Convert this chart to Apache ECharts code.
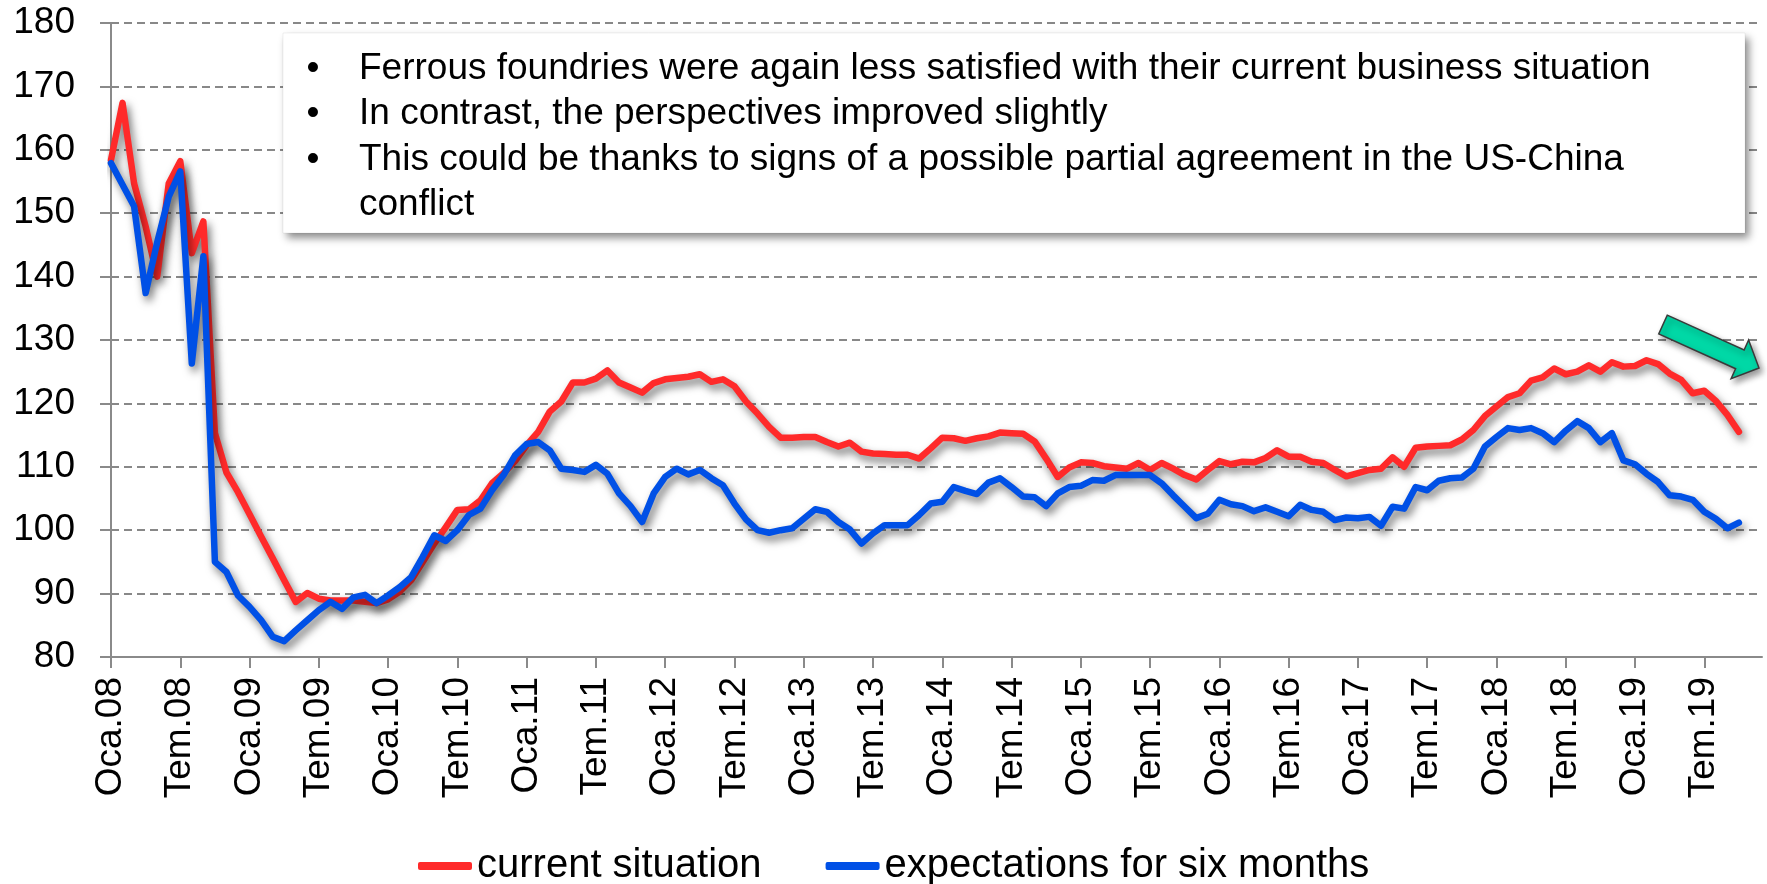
<!DOCTYPE html>
<html>
<head>
<meta charset="utf-8">
<title>Ferrous foundries – business situation</title>
<script src="https://cdn.jsdelivr.net/npm/echarts@6.0.0/dist/echarts.min.js"></script>
<style>
  html, body { margin: 0; padding: 0; background: #fff; }
  #chart { width: 1767px; height: 884px; }
</style>
</head>
<body>
<div id="chart"></div>
<script>
// ── Categories (monthly, Jan 2008 – Dec 2019) ─────────────────────────────
const MONTHS = ['Oca', 'Şub', 'Mar', 'Nis', 'May', 'Haz', 'Tem', 'Ağu', 'Eyl', 'Eki', 'Kas', 'Ara']
const YEARS = ['08', '09', '10', '11', '12', '13', '14', '15', '16', '17', '18', '19']

// ── Series values (Jan 2008 – Oct 2019) ───────────────────────────────────
const CURRENT_SITUATION = [
  158.4, 167.4, 154.7, 147.9, 140.0, 154.7, 158.2, 143.7, 148.7, 115.3, 109.1, 106.0,
  102.5, 99.0, 95.6, 92.1, 88.7, 90.1, 89.2, 88.9, 88.9, 88.9, 88.7, 88.5,
  89.1, 90.3, 92.1, 95.0, 97.9, 100.5, 103.2, 103.3, 104.7, 107.4, 109.0, 110.9,
  113.4, 115.5, 118.7, 120.3, 123.3, 123.3, 123.9, 125.2, 123.3, 122.5, 121.7, 123.2,
  123.8, 124.0, 124.2, 124.6, 123.4, 123.8, 122.7, 120.3, 118.4, 116.3, 114.6, 114.6,
  114.7, 114.7, 113.9, 113.2, 113.8, 112.4, 112.1, 112.0, 111.9, 111.9, 111.3, 112.9,
  114.6, 114.5, 114.1, 114.5, 114.8, 115.4, 115.3, 115.2, 114.0, 111.3, 108.4, 109.9,
  110.7, 110.6, 110.1, 109.9, 109.7, 110.6, 109.5, 110.6, 109.7, 108.7, 108.0, 109.5,
  110.9, 110.4, 110.8, 110.7, 111.4, 112.6, 111.6, 111.6, 110.8, 110.6, 109.5, 108.5,
  109.0, 109.5, 109.7, 111.5, 110.0, 113.0, 113.2, 113.3, 113.4, 114.3, 115.8, 118.0,
  119.5, 121.0, 121.6, 123.6, 124.1, 125.5, 124.6, 125.0, 126.0, 125.0, 126.5, 125.8,
  125.9, 126.8, 126.2, 124.7, 123.7, 121.6, 122.0, 120.4, 118.2, 115.5
]
const EXPECTATIONS = [
  157.9, 154.5, 151.1, 137.4, 145.4, 152.6, 156.6, 126.3, 143.2, 95.0, 93.4, 89.7,
  87.9, 85.8, 83.2, 82.5, 84.2, 85.8, 87.4, 88.7, 87.6, 89.4, 89.8, 88.5,
  89.7, 91.0, 92.6, 95.8, 99.2, 98.3, 100.0, 102.4, 103.4, 106.3, 108.7, 111.8,
  113.6, 113.9, 112.6, 109.7, 109.5, 109.2, 110.3, 108.9, 105.8, 103.8, 101.3, 105.8,
  108.4, 109.7, 108.8, 109.5, 108.2, 107.1, 104.2, 101.7, 100.0, 99.6, 100.0, 100.3,
  101.8, 103.3, 102.9, 101.3, 100.1, 97.9, 99.5, 100.8, 100.8, 100.8, 102.4, 104.2,
  104.5, 106.8, 106.2, 105.7, 107.5, 108.2, 106.8, 105.3, 105.2, 103.8, 105.8, 106.8,
  107.0, 107.9, 107.8, 108.7, 108.7, 108.7, 108.7, 107.4, 105.5, 103.7, 101.9, 102.6,
  104.8, 104.1, 103.8, 103.0, 103.6, 102.9, 102.2, 104.0, 103.2, 102.9, 101.6, 102.0,
  101.9, 102.1, 100.7, 103.7, 103.4, 106.8, 106.3, 107.8, 108.2, 108.3, 109.7, 113.2,
  114.7, 116.1, 115.8, 116.1, 115.3, 113.9, 115.7, 117.2, 116.1, 113.9, 115.3, 111.0,
  110.4, 108.9, 107.6, 105.5, 105.3, 104.8, 102.9, 101.8, 100.3, 101.2
]

// ── Axis & text ───────────────────────────────────────────────────────────
const Y_MIN = 80
const Y_MAX = 180
const Y_STEP = 10
const SERIES_NAMES = ['current situation', 'expectations for six months']
const NOTE_LINES = [
  { bullet: true, text: 'Ferrous foundries were again less satisfied with their current business situation' },
  { bullet: true, text: 'In contrast, the perspectives improved slightly' },
  { bullet: true, text: 'This could be thanks to signs of a possible partial agreement in the US-China' },
  { bullet: false, text: 'conflict' }
]

const FONT = '"Liberation Sans", Arial, Helvetica, sans-serif'
const AXIS_GREY = '#8a8a8a'

const categories = []
YEARS.forEach(y => MONTHS.forEach(m => categories.push(`${m}.${y}`)))

// ── Annotation box ────────────────────────────────────────────────────────
function buildNote() {
  const els = [{
    type: 'rect',
    z: 100,
    shape: { x: 283, y: 33, width: 1462, height: 200 },
    style: {
      fill: '#fff',
      stroke: 'rgba(0,0,0,0.06)',
      lineWidth: 1,
      shadowColor: 'rgba(0,0,0,0.45)',
      shadowBlur: 8,
      shadowOffsetX: 4,
      shadowOffsetY: 5
    }
  }]
  NOTE_LINES.forEach((line, i) => {
    const y = 68.5 + i * 45.5
    if (line.bullet) {
      els.push({
        type: 'text', z: 101, x: 313, y,
        style: { text: '•', font: `37px ${FONT}`, fill: '#000', align: 'center', verticalAlign: 'middle' }
      })
    }
    els.push({
      type: 'text', z: 101, x: 359, y,
      style: { text: line.text, font: `37px ${FONT}`, fill: '#000', align: 'left', verticalAlign: 'middle' }
    })
  })
  return els
}

// ── Trend arrow ───────────────────────────────────────────────────────────
function buildArrow() {
  const ox = 1663, oy = 324.5
  const ang = 24.4 * Math.PI / 180
  const local = [[0, -10.3], [84.4, -10.3], [84.4, -21.2], [105.4, 0], [84.4, 21.2], [84.4, 10.3], [0, 10.3]]
  const pts = local.map(([u, v]) => [
    ox + u * Math.cos(ang) - v * Math.sin(ang),
    oy + u * Math.sin(ang) + v * Math.cos(ang)
  ])
  return {
    type: 'polygon',
    z: 100,
    shape: { points: pts },
    style: {
      fill: '#00d8a6',
      stroke: '#3a3a3a',
      lineWidth: 1.5,
      shadowColor: 'rgba(0,0,0,0.4)',
      shadowBlur: 6,
      shadowOffsetX: 3,
      shadowOffsetY: 4
    }
  }
}

// ── Chart ─────────────────────────────────────────────────────────────────
const chart = echarts.init(document.getElementById('chart'))

const lineStyle = (color) => ({
  color,
  width: 6.5,
  cap: 'round',
  join: 'round',
  shadowColor: 'rgba(0,0,0,0.55)',
  shadowBlur: 8,
  shadowOffsetX: 3,
  shadowOffsetY: 5
})

chart.setOption({
  animation: false,
  backgroundColor: '#fff',
  textStyle: { fontFamily: FONT },
  grid: {
    left: 111,
    right: 5,
    top: 23,
    bottom: 227,
    containLabel: false,
    outerBoundsMode: 'none'
  },
  legend: {
    left: 413,
    top: 841,
    icon: 'roundRect',
    itemWidth: 54,
    itemHeight: 8,
    itemGap: 64,
    itemStyle: { shadowBlur: 0, shadowColor: 'transparent' },
    textStyle: { fontSize: 40, color: '#000', fontFamily: FONT },
    data: SERIES_NAMES
  },
  xAxis: {
    type: 'category',
    data: categories,
    boundaryGap: false,
    axisLine: { lineStyle: { color: AXIS_GREY, width: 2 } },
    axisTick: { interval: 5, length: 11, lineStyle: { color: AXIS_GREY, width: 2 } },
    axisLabel: {
      interval: 5,
      rotate: 90,
      margin: 20,
      fontSize: 37,
      color: '#000',
      fontFamily: FONT
    },
    splitLine: { show: false }
  },
  yAxis: {
    type: 'value',
    min: Y_MIN,
    max: Y_MAX,
    interval: Y_STEP,
    axisLine: { show: true, lineStyle: { color: AXIS_GREY, width: 2 } },
    axisTick: { show: true, length: 11, lineStyle: { color: AXIS_GREY, width: 2 } },
    axisLabel: { margin: 36, fontSize: 37, color: '#000', fontFamily: FONT },
    splitLine: { lineStyle: { color: '#888', width: 2, type: [8, 5] } }
  },
  series: [
    {
      name: SERIES_NAMES[0],
      type: 'line',
      data: CURRENT_SITUATION,
      showSymbol: false,
      color: '#ff2a2a',
      lineStyle: lineStyle('#ff2a2a')
    },
    {
      name: SERIES_NAMES[1],
      type: 'line',
      data: EXPECTATIONS,
      showSymbol: false,
      color: '#0050e6',
      lineStyle: lineStyle('#0050e6')
    }
  ],
  graphic: [...buildNote(), buildArrow()]
})
</script>
</body>
</html>
